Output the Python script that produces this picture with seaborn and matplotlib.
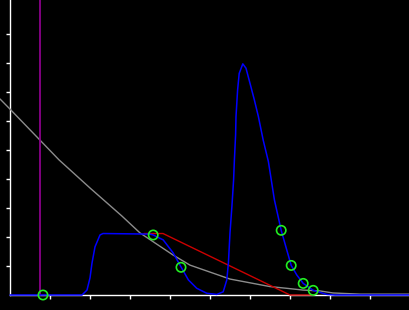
import matplotlib
matplotlib.use("Agg")
import matplotlib.pyplot as plt
import seaborn as sns
import pandas as pd

# ---- data (in data units) ----
blue_x = [0, 1.8, 1.925, 2.0, 2.05, 2.125, 2.25, 2.325, 3.5, 3.58, 3.83, 4.08, 4.275,
          4.46, 4.67, 4.92, 5.17, 5.33, 5.42, 5.46, 5.5, 5.55, 5.59, 5.61, 5.64, 5.65,
          5.69, 5.73, 5.82, 5.90, 6.0, 6.11, 6.21, 6.33, 6.46, 6.61, 6.78, 6.92, 7.03,
          7.17, 7.33, 7.58, 7.92, 8.125, 10]
blue_y = [0, 0, 0.17, 0.59, 1.10, 1.66, 2.07, 2.12, 2.10, 2.07, 1.90, 1.45, 0.97,
          0.52, 0.23, 0.06, 0.02, 0.11, 0.52, 1.10, 2.14, 3.10, 3.97, 4.66, 5.52, 6.15,
          7.07, 7.64, 7.97, 7.82, 7.30, 6.72, 6.15, 5.34, 4.60, 3.28, 2.23, 1.55, 1.02,
          0.69, 0.40, 0.16, 0.02, 0, 0]

gray_x = [-0.25, 0, 0.75, 1.225, 2.0, 2.8, 3.25, 4.075, 4.5, 5.5, 6.5, 6.925, 7.325,
          7.75, 8.075, 8.75, 10]
gray_y = [6.76, 6.41, 5.34, 4.66, 3.69, 2.72, 2.14, 1.38, 1.03, 0.55, 0.29, 0.23, 0.17,
          0.14, 0.07, 0.03, 0.03]

red_x = [3.35, 3.825, 7.0, 7.575]
red_y = [2.12, 2.12, 0, 0]

purple_x = 0.76

pts_x = [0.825, 3.58, 4.275, 6.78, 7.03, 7.33, 7.58]
pts_y = [0, 2.07, 0.955, 2.23, 1.02, 0.40, 0.16]

x_ticks = [1, 2, 3, 4, 5, 6, 7, 8, 9]
y_ticks = [1, 2, 3, 4, 5, 6, 7, 8, 9]

# ---- plot ----
sns.set_style("dark")
plt.rcParams['font.family'] = ['DejaVu Sans']
fig = plt.figure(figsize=(4.1, 3.1), dpi=100, facecolor="black")
ax = fig.add_axes([0, 0, 1, 1])
ax.set_facecolor("black")

xmin, xmax = -0.25, 10
ymin, ymax = -15 / 29, 295 / 29

sns.lineplot(x=gray_x, y=gray_y, color="#8c8c8c", lw=1.0, sort=False, estimator=None, ax=ax)
ax.axvline(purple_x, ymin=(0 - ymin) / (ymax - ymin), ymax=1, color="#8b008b", lw=1.3)
sns.lineplot(x=red_x, y=red_y, color="#cc0000", lw=1.0, sort=False, estimator=None, ax=ax)
sns.lineplot(x=blue_x, y=blue_y, color="#0000ff", lw=1.1, sort=False, estimator=None, ax=ax)
sns.scatterplot(x=pts_x, y=pts_y, marker="o", s=45, facecolors="none",
                edgecolors="#22ee22", linewidths=1.2, ax=ax, zorder=5)

ax.set_xlim(xmin, xmax)
ax.set_ylim(ymin, ymax)
ax.grid(False)
for s in ["top", "right"]:
    ax.spines[s].set_visible(False)
ax.spines["left"].set_position(("data", 0))
ax.spines["bottom"].set_position(("data", 0))
ax.spines["left"].set_bounds(0, ymax)
ax.spines["bottom"].set_bounds(0, xmax)
for s in ["left", "bottom"]:
    ax.spines[s].set_color("white")
    ax.spines[s].set_linewidth(1.0)
    ax.spines[s].set_visible(True)
    ax.spines[s].set_zorder(1)
ax.set_xticks(x_ticks)
ax.set_yticks(y_ticks)
ax.tick_params(axis="both", colors="white", direction="out", length=3, width=1,
               labelleft=False, labelbottom=False, left=True, bottom=True)

fig.savefig("out.png", dpi=100, facecolor="black")
